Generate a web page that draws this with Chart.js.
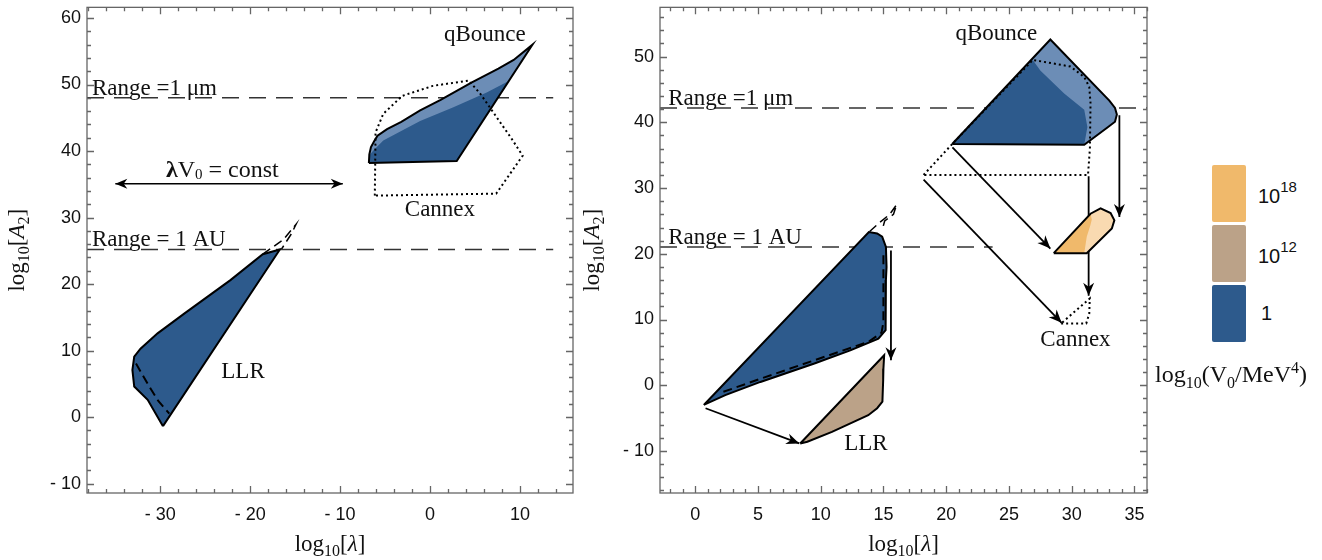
<!DOCTYPE html>
<html>
<head>
<meta charset="utf-8">
<script src="https://cdn.jsdelivr.net/npm/chart.js@4/dist/chart.umd.min.js"></script>
<style>
  body { margin: 0; background: #fff; width: 1322px; height: 560px; position: relative; overflow: hidden; }
  #leftChart { position: absolute; left: 0; top: 0; }
  #rightChart { position: absolute; left: 580px; top: 0; }
  .sw { position: absolute; left: 1212px; width: 34px; height: 57px; border-radius: 2px; }
  .lab { position: absolute; left: 1258px; font: 20px "Liberation Sans", Arial, sans-serif; color: #111; }
  .lab sup { font-size: 15px; position: relative; top: -3px; }
  #vtitle { position: absolute; left: 1130px; width: 202px; top: 359px; text-align: center;
            font: 24px "Liberation Serif", serif; color: #111; white-space: nowrap; }
  #vtitle sub { font-size: 16px; }
  #vtitle sup { font-size: 16px; }
</style>
</head>
<body>
<canvas id="leftChart" width="590" height="560"></canvas>
<canvas id="rightChart" width="580" height="560"></canvas>

<div class="sw" style="top:165px;background:#f0b96b"></div>
<div class="sw" style="top:225px;background:#bba288"></div>
<div class="sw" style="top:285px;background:#2d5a8c"></div>
<div class="lab" style="top:181px">10<sup>18</sup></div>
<div class="lab" style="top:241px">10<sup>12</sup></div>
<div class="lab" style="top:302px;left:1261px">1</div>
<div id="vtitle">log<sub>10</sub>(V<sub>0</sub>/MeV<sup>4</sup>)</div>

<script>
/* ---------- DATA (log10 units) ---------- */
const xTickLabelsL = [-30, -20, -10, 0, 10];
const yTickLabelsL = [-10, 0, 10, 20, 30, 40, 50, 60];
const xTickLabelsR = [0, 5, 10, 15, 20, 25, 30, 35];
const yTickLabelsR = [-10, 0, 10, 20, 30, 40, 50];

// left panel: log10[lambda], log10[A2]
const qBounceL = [[-6.8, 38.2], [-6.75, 39.5], [-6.57, 40.6], [-6.2, 41.5], [-5.84, 42.3], [-4.78, 43.3],
  [-3.2, 44.4], [-1.1, 46.1], [1.18, 47.7], [4.6, 50.3], [7.6, 52.4], [9.3, 53.7], [11.4, 56.0],
  [2.97, 38.5], [-6.8, 38.2]];
const qBounceDarkL = [[-6.8, 38.2], [-6.72, 39.4], [-6.3, 40.1], [-5.2, 41.6], [-3.1, 43.1], [-1.1, 44.5],
  [2.6, 46.6], [6.3, 48.8], [8.7, 50.5], [2.97, 38.5], [-6.8, 38.2]];
const cannexL = [[-6.14, 33.3], [-6.06, 42.8], [-5.2, 45.6], [-3.08, 48.3], [0.33, 49.8], [4.3, 50.6],
  [5.6, 48.6], [9.1, 41.8], [10.3, 39.3], [7.36, 33.6], [-6.14, 33.3]];
const llrL = [[-29.7, -1.35], [-31.4, 2.6], [-32.9, 4.6], [-33.1, 7.1], [-32.9, 9.1], [-32.2, 10.3],
  [-30.3, 12.6], [-27.3, 15.6], [-22.2, 20.6], [-18.6, 24.5], [-16.7, 25.2], [-29.7, -1.35]];
const llrDashL = [[-32.7, 8.05], [-31.2, 4.55], [-30.2, 2.4], [-29.0, 0.54]];
const llrLoopL = [[-18.6, 24.5], [-16.3, 26.7], [-14.9, 29.0], [-15.4, 27.6], [-16.5, 25.3]];
const rangeUmL = 48.0;
const rangeAuL = 25.2;
const rangeEndL = 13.7;
const constArrowL = [-35, 35.1, -9.7, 35.1];

// right panel
const qBounceR = [[20.48, 36.7], [28.3, 52.6], [33.0, 43.3], [33.45, 42.2], [33.6, 41.2], [33.45, 40.1],
  [32.9, 39.3], [31.0, 36.6], [20.48, 36.7]];
const qBounceDarkR = [[20.48, 36.7], [26.9, 49.5], [27.5, 47.9], [29.4, 44.4], [31.0, 41.9], [31.25, 39.3],
  [31.0, 36.6], [20.48, 36.7]];
const cannexR = [[18.2, 32.0], [20.48, 36.7], [26.9, 49.5], [29.9, 48.5], [31.0, 46.9], [31.4, 45.4],
  [31.5, 42.9], [31.45, 36.0], [31.3, 32.0], [18.2, 32.0]];
const cannexLowR = [[29.16, 9.4], [31.16, 9.4], [31.4, 10.9], [31.44, 13.2], [29.16, 9.4]];
const orangeR = [[28.57, 20.1], [31.2, 20.1], [33.2, 23.85], [33.4, 25.1], [33.1, 26.2], [32.3, 26.9],
  [31.5, 26.1], [28.57, 20.1]];
const orangeDarkR = [[28.57, 20.1], [31.5, 26.1], [31.6, 25.2], [31.5, 24.4], [31.2, 22.6], [31.0, 20.1],
  [28.57, 20.1]];
const llrBlueR = [[0.69, -3.0], [13.84, 23.3], [14.5, 23.1], [14.9, 22.6], [15.2, 21.05], [15.25, 18.0],
  [15.2, 16.0], [15.2, 10.9], [15.15, 8.4], [14.6, 7.1], [12.36, 5.3], [9.5, 3.3], [5.2, 0.5],
  [2.4, -1.5], [0.69, -3.0]];
const llrDashR = [[2.25, -1.0], [5.24, 1.0], [9.5, 3.8], [13.8, 6.6], [14.85, 8.0], [15.0, 9.6],
  [15.0, 13.0], [15.0, 17.0], [15.0, 20.5]];
const llrLoopR = [[13.9, 23.4], [14.6, 24.6], [15.5, 26.0], [16.06, 27.5], [15.8, 26.0], [15.1, 25.0], [14.9, 23.6]];
const llrTanR = [[8.37, -8.87], [15.06, 4.57], [15.0, 2.5], [14.98, 0.76], [14.92, -2.5], [14.5, -3.5],
  [13.79, -4.57], [10.9, -7.1], [8.94, -8.6], [8.37, -8.87]];
const rangeUmR = 42.2;
const rangeAuR = 21.05;
const rangeAuEndR = 23.7;
const arrowsR = [
  [20.5, 36.2, 28.3, 20.8],
  [18.2, 31.3, 29.2, 9.5],
  [33.8, 41.1, 33.8, 25.6],
  [31.35, 31.8, 31.35, 13.6],
  [15.6, 20.5, 15.6, 3.8],
  [0.83, -3.5, 8.3, -8.85]
];

/* ---------- STYLE ---------- */
const DARK = '#2d5a8c';
const LIGHT = '#6c8db6';
const TAN = '#bba288';
const ORANGE = '#f0b96b';
const PEACH = '#f9dab1';
const SERIF = '"Liberation Serif", "Times New Roman", serif';
const f = (s, st) => (st ? st + ' ' : '') + s + 'px ' + SERIF;

const ds = (pts, o) => Object.assign({
  data: pts.map(p => ({ x: p[0], y: p[1] })),
  showLine: true, pointRadius: 0, borderWidth: 2, borderColor: '#000',
  backgroundColor: 'transparent', fill: false, tension: 0
}, o);
const dotted = { borderDash: [2, 3], borderWidth: 2 };
const dashed = { borderDash: [9, 5], borderWidth: 2 };
const rangeStyle = { borderDash: [17, 10], borderWidth: 1.5, borderColor: '#333' };

function drawRuns(ctx, runs, x, y, align) {
  let w = 0;
  runs.forEach(r => { ctx.font = r[1]; w += ctx.measureText(r[0]).width; });
  let cx = align === 'center' ? x - w / 2 : x;
  runs.forEach(r => {
    ctx.font = r[1];
    ctx.fillText(r[0], cx, y + (r[2] || 0));
    cx += ctx.measureText(r[0]).width;
  });
}

function arrowHead(ctx, x1, y1, x2, y2, len, half) {
  const a = Math.atan2(y2 - y1, x2 - x1);
  ctx.beginPath();
  ctx.moveTo(x2, y2);
  ctx.lineTo(x2 - len * Math.cos(a) + half * Math.sin(a), y2 - len * Math.sin(a) - half * Math.cos(a));
  ctx.lineTo(x2 - 0.7 * len * Math.cos(a), y2 - 0.7 * len * Math.sin(a));
  ctx.lineTo(x2 - len * Math.cos(a) - half * Math.sin(a), y2 - len * Math.sin(a) + half * Math.cos(a));
  ctx.closePath();
  ctx.fill();
}

const xTitleRuns = [['log', f(23)], ['10', f(16), 5], ['[', f(23)], ['λ', f(23, 'italic')], [']', f(23)]];
const yTitleRuns = [['log', f(23)], ['10', f(16), 5], ['[', f(23)], ['A', f(23, 'italic')], ['2', f(16), 5], [']', f(23)]];

function figurePlugin(cfg) {
  return {
    id: 'figure',
    afterDatasetsDraw(chart) {
      const { ctx, scales: { x, y } } = chart;
      ctx.save();
      ctx.fillStyle = '#000';
      cfg.arrows.forEach(a => {
        const p1 = [x.getPixelForValue(a[0]), y.getPixelForValue(a[1])];
        const p2 = [x.getPixelForValue(a[2]), y.getPixelForValue(a[3])];
        arrowHead(ctx, p1[0], p1[1], p2[0], p2[1], cfg.headLen, cfg.headHalf);
        if (cfg.doubleHead) arrowHead(ctx, p2[0], p2[1], p1[0], p1[1], cfg.headLen, cfg.headHalf);
      });
      ctx.fillStyle = '#111';
      cfg.labels.forEach(l => {
        ctx.textBaseline = l.mid ? 'middle' : 'alphabetic';
        drawRuns(ctx, l.runs, x.getPixelForValue(l.x), y.getPixelForValue(l.y), l.align || 'center');
      });
      ctx.restore();
    },
    afterDraw(chart) {
      const { ctx, chartArea: a, scales: { x, y } } = chart;
      ctx.save();
      ctx.strokeStyle = '#666';
      ctx.lineWidth = 1.3;
      ctx.strokeRect(a.left, a.top, a.right - a.left, a.bottom - a.top);
      ctx.beginPath();
      x.ticks.forEach(t => {
        const px = Math.round(x.getPixelForValue(t.value)) + 0.5;
        const len = cfg.xMajor.includes(t.value) ? 7 : 4;
        ctx.moveTo(px, a.bottom); ctx.lineTo(px, a.bottom - len);
        ctx.moveTo(px, a.top); ctx.lineTo(px, a.top + len);
      });
      y.ticks.forEach(t => {
        const py = Math.round(y.getPixelForValue(t.value)) + 0.5;
        const len = cfg.yMajor.includes(t.value) ? 7 : 4;
        ctx.moveTo(a.left, py); ctx.lineTo(a.left + len, py);
        ctx.moveTo(a.right, py); ctx.lineTo(a.right - len, py);
      });
      ctx.stroke();
      // axis titles
      ctx.fillStyle = '#111';
      ctx.textBaseline = 'alphabetic';
      drawRuns(ctx, xTitleRuns, (a.left + a.right) / 2, 551, 'center');
      ctx.translate(cfg.yTitleX, (a.top + a.bottom) / 2);
      ctx.rotate(-Math.PI / 2);
      drawRuns(ctx, yTitleRuns, 0, 0, 'center');
      ctx.restore();
    }
  };
}

const tickFmt = labels => v => labels.includes(v) ? (v < 0 ? '- ' + Math.abs(v) : String(v)) : '';
const SANS = '"Liberation Sans", Arial, sans-serif';

function makeChart(canvas, cfg) {
  cfg.datasets.forEach((d, i) => { d.order = -i; });
  return new Chart(canvas, {
    type: 'scatter',
    data: { datasets: cfg.datasets },
    options: {
      responsive: false,
      animation: false,
      events: [],
      layout: { padding: { top: 0, right: cfg.padRight, left: 0, bottom: 0 } },
      plugins: { legend: { display: false }, tooltip: { enabled: false } },
      scales: {
        x: {
          type: 'linear', min: cfg.xRange[0], max: cfg.xRange[1],
          grid: { display: false, drawTicks: false }, border: { display: false },
          ticks: {
            stepSize: cfg.xStep, autoSkip: false, includeBounds: false, maxRotation: 0,
            padding: 11, color: '#111', font: { family: SANS, size: 18 },
            callback: tickFmt(cfg.xMajor)
          },
          afterFit(s) { s.height = 67; }
        },
        y: {
          type: 'linear', min: cfg.yRange[0], max: cfg.yRange[1],
          grid: { display: false, drawTicks: false }, border: { display: false },
          ticks: {
            stepSize: 2, autoSkip: false, includeBounds: false,
            padding: 6, color: '#111', font: { family: SANS, size: 18, lineHeight: 0.15 },
            callback: tickFmt(cfg.yMajor)
          },
          afterFit(s) { s.width = cfg.yWidth; }
        }
      }
    },
    plugins: [figurePlugin(cfg)]
  });
}

/* ---------- LEFT PANEL ---------- */
const xRangeL = [-38.15, 15.9];
makeChart(document.getElementById('leftChart'), {
  xRange: xRangeL, yRange: [-11.4, 61.6], xStep: 2,
  xMajor: xTickLabelsL, yMajor: yTickLabelsL,
  yWidth: 87, padRight: 17, yTitleX: 24,
  arrows: [constArrowL], doubleHead: true, headLen: 12, headHalf: 5,
  labels: [
    { runs: [['qBounce', f(23)]], x: 6.1, y: 57.5, mid: true },
    { runs: [['Cannex', f(23)]], x: 1.1, y: 31.1, mid: true },
    { runs: [['LLR', f(23)]], x: -20.8, y: 6.8, mid: true },
    { runs: [['λ', f(24, 'bold')], ['V', f(24)], ['0', f(15), 4], [' = const', f(24)]], x: -23.1, y: 37.0, mid: true },
    { runs: [['Range =1 μm', f(23)]], x: -37.6, y: 48.5, align: 'left' },
    { runs: [['Range = 1 AU', f(23)]], x: -37.6, y: 25.7, align: 'left' }
  ],
  datasets: [
    ds([[xRangeL[0], rangeUmL], [rangeEndL, rangeUmL]], rangeStyle),
    ds([[xRangeL[0], rangeAuL], [rangeEndL, rangeAuL]], rangeStyle),
    ds([[constArrowL[0], constArrowL[1]], [constArrowL[2], constArrowL[3]]], { borderWidth: 1.5 }),
    ds(llrL, { fill: 'shape', backgroundColor: DARK }),
    ds(llrDashL, dashed),
    ds(llrLoopL, Object.assign({}, dashed, { borderWidth: 1.5 })),
    ds(qBounceL, { fill: 'shape', backgroundColor: LIGHT, borderWidth: 0 }),
    ds(qBounceDarkL, { fill: 'shape', backgroundColor: DARK, borderWidth: 0 }),
    ds(qBounceL, {}),
    ds(cannexL, dotted)
  ]
});

/* ---------- RIGHT PANEL ---------- */
const xRangeR = [-2.8, 36.0];
makeChart(document.getElementById('rightChart'), {
  xRange: xRangeR, yRange: [-16.4, 57.5], xStep: 1,
  xMajor: xTickLabelsR, yMajor: yTickLabelsR,
  yWidth: 80, padRight: 13, yTitleX: 19,
  arrows: arrowsR, doubleHead: false, headLen: 13, headHalf: 5.5,
  labels: [
    { runs: [['qBounce', f(23)]], x: 24.0, y: 53.5, mid: true },
    { runs: [['Cannex', f(23)]], x: 30.3, y: 6.85, mid: true },
    { runs: [['LLR', f(23)]], x: 13.6, y: -8.9, mid: true },
    { runs: [['Range =1 μm', f(23)]], x: -2.15, y: 42.6, align: 'left' },
    { runs: [['Range = 1 AU', f(23)]], x: -2.15, y: 21.5, align: 'left' }
  ],
  datasets: [
    ds([[xRangeR[0], rangeUmR], [xRangeR[1], rangeUmR]], rangeStyle),
    ds([[xRangeR[0], rangeAuR], [rangeAuEndR, rangeAuR]], rangeStyle),
    ...arrowsR.map(a => ds([[a[0], a[1]], [a[2], a[3]]], { borderWidth: 1.8 })),
    ds(llrTanR, { fill: 'shape', backgroundColor: TAN }),
    ds(llrBlueR, { fill: 'shape', backgroundColor: DARK }),
    ds(llrDashR, dashed),
    ds(llrLoopR, Object.assign({}, dashed, { borderWidth: 1.5 })),
    ds(qBounceR, { fill: 'shape', backgroundColor: LIGHT, borderWidth: 0 }),
    ds(qBounceDarkR, { fill: 'shape', backgroundColor: DARK, borderWidth: 0 }),
    ds(qBounceR, {}),
    ds(cannexR, dotted),
    ds(orangeR, { fill: 'shape', backgroundColor: PEACH, borderWidth: 0 }),
    ds(orangeDarkR, { fill: 'shape', backgroundColor: ORANGE, borderWidth: 0 }),
    ds(orangeR, {}),
    ds(cannexLowR, dotted)
  ]
});
</script>
</body>
</html>
